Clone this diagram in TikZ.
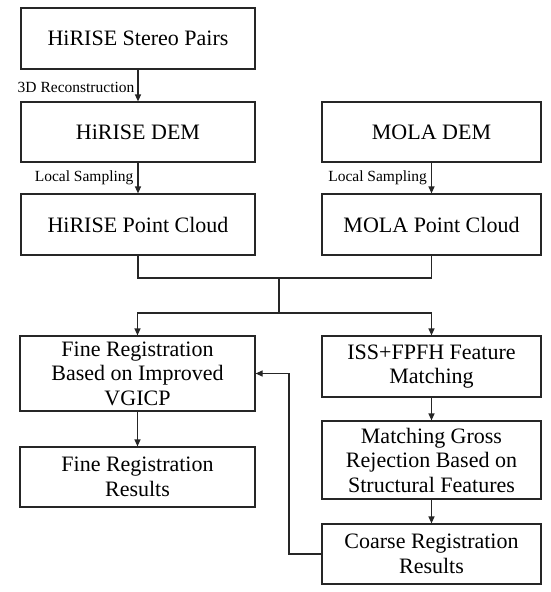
\documentclass[tikz,border=0pt]{standalone}
\usepackage{fontspec}
\setmainfont{Liberation Serif}
\usetikzlibrary{arrows.meta}
\begin{document}
\begin{tikzpicture}[x=1pt,y=-1pt,
  box/.style={draw=black!85, line width=1.2pt, align=center, inner sep=0pt,
    font=\fontsize{22}{24.5}\selectfont},
  lbl/.style={font=\fontsize{15.5}{17}\selectfont, inner sep=0pt},
  link/.style={draw=black!85, line width=1.2pt},
  arr/.style={link, -{Triangle[length=7pt,width=6pt]}}]
\useasboundingbox (0,0) rectangle (550,592);
% left column
\node[box, minimum width=234pt, minimum height=61pt] (b1) at (138,38.5) {HiRISE Stereo Pairs};
\node[box, minimum width=234pt, minimum height=60pt] (b2) at (138,132) {HiRISE DEM};
\node[box, minimum width=234pt, minimum height=61pt] (b3) at (138,224.5) {HiRISE Point Cloud};
% right column
\node[box, minimum width=219pt, minimum height=60pt] (m1) at (431.5,132) {MOLA DEM};
\node[box, minimum width=219pt, minimum height=61pt] (m2) at (431.5,224.5) {MOLA Point Cloud};
% lower part
\node[box, minimum width=235pt, minimum height=75pt] (fine) at (137.5,373.5) {Fine Registration\\Based on Improved\\VGICP};
\node[box, minimum width=235pt, minimum height=60pt] (res) at (137.5,477) {Fine Registration\\Results};
\node[box, minimum width=219pt, minimum height=61pt] (iss) at (431.5,366.5) {ISS+FPFH Feature\\Matching};
\node[box, minimum width=219pt, minimum height=78pt] (mat) at (431.5,460) {Matching Gross\\Rejection Based on\\Structural Features};
\node[box, minimum width=219pt, minimum height=60pt] (coarse) at (431.5,554) {Coarse Registration\\Results};
% junctions
\coordinate (j1) at (279,278);
\coordinate (j2) at (279,313);
\coordinate (fb) at (289,554);
% connectors
\draw[arr] (b1) -- node[lbl, anchor=east, xshift=-3pt, yshift=-2pt] (l1) {3D Reconstruction} (b2);
\draw[arr] (b2) -- node[lbl, anchor=east, xshift=-4pt] (l2) {Local Sampling} (b3);
\draw[arr] (m1) -- node[lbl, anchor=east, xshift=-4pt] (l3) {Local Sampling} (m2);
\draw[link] (b3.south) |- (j1) -| (m2.south);
\draw[link] (j1) -- (j2);
\draw[arr] (j2) -| (fine.north);
\draw[arr] (j2) -| (iss.north);
\draw[arr] (fine) -- (res);
\draw[arr] (iss) -- (mat);
\draw[arr] (mat) -- (coarse);
\draw[arr] (coarse.west) -- (fb) |- (fine.east);
\end{tikzpicture}
\end{document}
